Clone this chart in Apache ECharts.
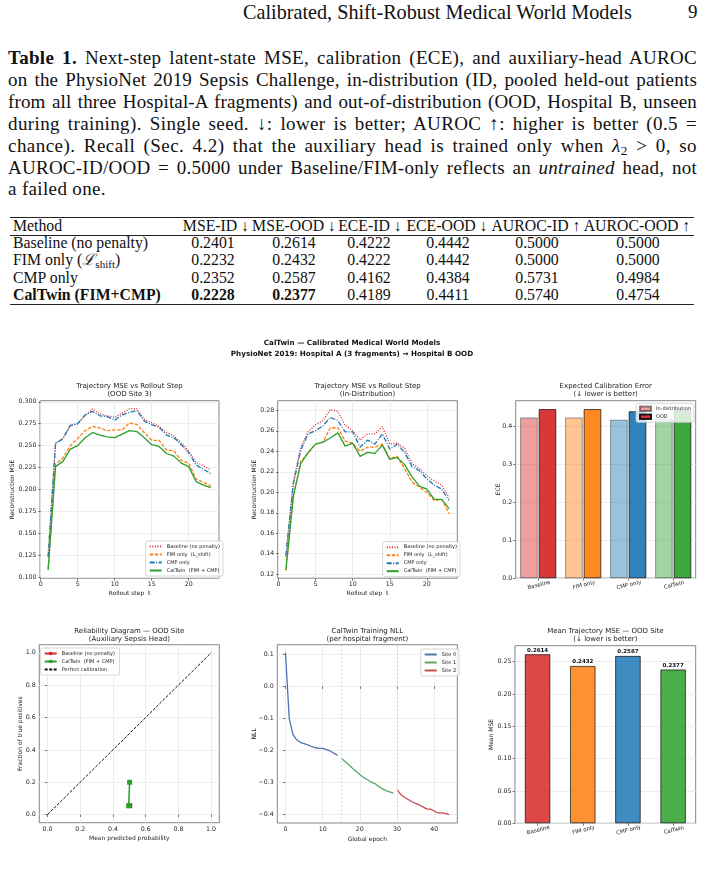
<!DOCTYPE html>
<html>
<head>
<meta charset="utf-8">
<script src="https://cdn.jsdelivr.net/npm/echarts@6/dist/echarts.min.js"></script>
<style>
html, body { margin: 0; padding: 0; background: #fff; }
body { width: 704px; height: 875px; position: relative; overflow: hidden;
       font-family: "Liberation Serif", "DejaVu Serif", serif; color: #111; }
.ln { position: absolute; left: 8px; font-size: 19px; line-height: 22px; white-space: nowrap; }
.cell { position: absolute; white-space: nowrap; font-size: 15.8px; line-height: 17px; }
.rule { position: absolute; left: 10px; width: 684px; background: #222; }
sub { font-size: 70%; vertical-align: -0.25em; line-height: 0; }
#chart { position: absolute; left: 0; top: 330px; width: 704px; height: 545px; }
</style>
</head>
<body>
<div id="hdr" class="ln" style="top:1px;left:243px"><span>Calibrated, Shift-Robust Medical World Models</span></div>
<div class="ln" style="top:1px;left:688px">9</div>

<div class="ln jl" style="top:47px"><span><b>Table 1.</b> Next-step latent-state MSE, calibration (ECE), and auxiliary-head AUROC</span></div>
<div class="ln jl" style="top:68.9px"><span>on the PhysioNet 2019 Sepsis Challenge, in-distribution (ID, pooled held-out patients</span></div>
<div class="ln jl" style="top:90.8px"><span>from all three Hospital-A fragments) and out-of-distribution (OOD, Hospital B, unseen</span></div>
<div class="ln jl" style="top:112.7px"><span>during training). Single seed. ↓: lower is better; AUROC ↑: higher is better (0.5 =</span></div>
<div class="ln jl" style="top:134.6px"><span>chance). Recall (Sec. 4.2) that the auxiliary head is trained only when <i>λ</i><sub>2</sub> &gt; 0, so</span></div>
<div class="ln jl" style="top:156.5px"><span>AUROC-ID/OOD = 0.5000 under Baseline/FIM-only reflects an <i>untrained</i> head, not</span></div>
<div class="ln" id="last" style="top:178.4px"><span>a failed one.</span></div>

<div class="rule" style="top:216.5px;height:1.3px"></div>
<div class="rule" style="top:235px;height:0.8px"></div>
<div class="rule" style="top:303.5px;height:1.3px"></div>
<div id="table"></div>

<div id="chart"></div>

<script>
// ---- table values ----
const tableHead = ['MSE-ID ↓', 'MSE-OOD ↓', 'ECE-ID ↓', 'ECE-OOD ↓', 'AUROC-ID ↑', 'AUROC-OOD ↑']
const tableMethods = ['Baseline (no penalty)', 'FIM only (<i>ℒ</i><sub>shift</sub>)', 'CMP only', '<b>CalTwin (FIM+CMP)</b>']
const mseId = [0.2401, 0.2232, 0.2352, 0.2228]
const mseOod = [0.2614, 0.2432, 0.2587, 0.2377]
const eceId = [0.4222, 0.4222, 0.4162, 0.4189]
const eceOod = [0.4442, 0.4442, 0.4384, 0.4411]
const aurocId = [0.5000, 0.5000, 0.5731, 0.5740]
const aurocOod = [0.5000, 0.5000, 0.4984, 0.4754]

// ---- figure data ----
const steps = [1, 2, 3, 4, 5, 6, 7, 8, 9, 10, 11, 12, 13, 14, 15, 16, 17, 18, 19, 20, 21, 22, 23]
const oodBaseline = [0.125, 0.253, 0.258, 0.273, 0.275, 0.284, 0.292, 0.286, 0.284, 0.282, 0.287, 0.292, 0.292, 0.280, 0.276, 0.272, 0.265, 0.261, 0.253, 0.244, 0.231, 0.227, 0.222]
const oodFim = [0.110, 0.229, 0.236, 0.250, 0.258, 0.267, 0.272, 0.270, 0.267, 0.268, 0.268, 0.276, 0.274, 0.265, 0.256, 0.256, 0.245, 0.244, 0.233, 0.230, 0.212, 0.208, 0.204]
const oodCmp = [0.123, 0.252, 0.258, 0.273, 0.275, 0.285, 0.289, 0.284, 0.283, 0.279, 0.285, 0.288, 0.290, 0.278, 0.274, 0.271, 0.262, 0.259, 0.251, 0.242, 0.228, 0.223, 0.218]
const oodCaltwin = [0.108, 0.226, 0.232, 0.246, 0.250, 0.259, 0.265, 0.262, 0.260, 0.259, 0.263, 0.267, 0.266, 0.259, 0.251, 0.249, 0.241, 0.238, 0.230, 0.226, 0.209, 0.205, 0.202]

const idBaseline = [0.137, 0.210, 0.244, 0.259, 0.266, 0.270, 0.281, 0.279, 0.265, 0.260, 0.251, 0.257, 0.257, 0.264, 0.247, 0.248, 0.243, 0.228, 0.223, 0.216, 0.211, 0.207, 0.195]
const idFim = [0.124, 0.195, 0.230, 0.238, 0.247, 0.249, 0.263, 0.263, 0.250, 0.248, 0.240, 0.244, 0.244, 0.247, 0.233, 0.235, 0.223, 0.210, 0.205, 0.200, 0.192, 0.193, 0.179]
const idCmp = [0.138, 0.208, 0.241, 0.257, 0.260, 0.265, 0.273, 0.270, 0.259, 0.259, 0.244, 0.251, 0.247, 0.257, 0.242, 0.247, 0.239, 0.225, 0.221, 0.213, 0.207, 0.203, 0.192]
const idCaltwin = [0.124, 0.196, 0.228, 0.239, 0.247, 0.249, 0.253, 0.258, 0.245, 0.248, 0.235, 0.239, 0.238, 0.246, 0.232, 0.234, 0.227, 0.215, 0.206, 0.203, 0.193, 0.193, 0.184]

const methodShort = ['Baseline', 'FIM only', 'CMP only', 'CalTwin']

// reliability diagram points [mean predicted, fraction positive]
const relBaseline = [[0.503, 0.055]]
const relCaltwin = [[0.496, 0.055], [0.502, 0.200]]
const relPerfect = [[0, 0], [1, 1]]

const epochs0 = [0, 1, 2, 3, 4, 5, 6, 7, 8, 9, 10, 11, 12, 13, 14]
const epochs1 = [15, 16, 17, 18, 19, 20, 21, 22, 23, 24, 25, 26, 27, 28, 29]
const epochs2 = [30, 31, 32, 33, 34, 35, 36, 37, 38, 39, 40, 41, 42, 43, 44]
const nllSite0 = [0.105, -0.100, -0.150, -0.167, -0.175, -0.179, -0.183, -0.188, -0.192, -0.194, -0.194, -0.198, -0.202, -0.209, -0.216]
const nllSite1 = [-0.225, -0.235, -0.245, -0.256, -0.266, -0.276, -0.285, -0.292, -0.299, -0.304, -0.312, -0.320, -0.326, -0.330, -0.334]
const nllSite2 = [-0.323, -0.338, -0.347, -0.354, -0.361, -0.366, -0.371, -0.377, -0.384, -0.384, -0.390, -0.396, -0.396, -0.397, -0.401]
const fragmentStarts = [15, 30]

// tick labels
const stepTicks = [0, 5, 10, 15, 20]
const oodTicks = [0.100, 0.125, 0.150, 0.175, 0.200, 0.225, 0.250, 0.275, 0.300]
const idTicks = [0.12, 0.14, 0.16, 0.18, 0.20, 0.22, 0.24, 0.26, 0.28]
const eceTicks = [0.0, 0.1, 0.2, 0.3, 0.4]
const probTicks = [0.0, 0.2, 0.4, 0.6, 0.8, 1.0]
const epochTicks = [0, 10, 20, 30, 40]
const nllTicks = [-0.4, -0.3, -0.2, -0.1, 0.0, 0.1]
const mseTicks = [0.00, 0.05, 0.10, 0.15, 0.20, 0.25]

// ---- build the table ----
const colCenters = [213, 294, 369, 448, 537, 638]
const headCenters = [216, 294, 370, 447, 536, 637]
const rowTops = [234, 251.3, 268.7, 286]
let html = '<div class="cell" style="left:13px;top:216.7px">Method</div>'
tableHead.forEach((h, j) => {
  html += '<div class="cell" style="left:' + headCenters[j] + 'px;top:216.7px;transform:translateX(-50%)">' + h + '</div>'
})
tableMethods.forEach((m, i) => {
  html += '<div class="cell" style="left:13px;top:' + rowTops[i] + 'px">' + m + '</div>'
  const vals = [mseId[i], mseOod[i], eceId[i], eceOod[i], aurocId[i], aurocOod[i]]
  vals.forEach((v, j) => {
    let t = v.toFixed(4)
    if (i === 3 && j < 2) t = '<b>' + t + '</b>'
    html += '<div class="cell" style="left:' + colCenters[j] + 'px;top:' + rowTops[i] + 'px;transform:translateX(-50%)">' + t + '</div>'
  })
})
document.getElementById('table').innerHTML = html

// justify caption lines: part of the slack goes between letters, the rest between words
document.querySelectorAll('.jl').forEach(el => {
  const span = el.firstElementChild
  const w = span.getBoundingClientRect().width
  const txt = span.textContent
  const n = (txt.match(/ /g) || []).length
  const slack = 689 - w
  const ls = slack > 0 ? 0.45 * slack / txt.length : 0
  span.style.letterSpacing = ls + 'px'
  const w2 = span.getBoundingClientRect().width
  span.style.wordSpacing = ((689 - w2) / n) + 'px'
})
document.getElementById('last').firstElementChild.style.letterSpacing = '0.35px'
// running head width
const hdr = document.getElementById('hdr')
const hw = hdr.firstElementChild.getBoundingClientRect().width
hdr.style.fontSize = (19 * 389 / hw) + 'px'

// ---- chart ----
const ink = '#222'
const red = '#d62728', orange = '#ff7f0e', blue = '#1f77b4', green = '#2ca02c'
const methodRgb = ['214,39,40', '255,127,14', '31,119,180', '44,160,44']

function fmt (d) {
  return v => Number(v).toFixed(d).replace('-', '\u2212')
}

function valAxis (grid, min, max, ticks, dec, name, gap, showSplit) {
  return {
    type: 'value', gridIndex: grid, min: min, max: max,
    name: name, nameLocation: 'middle', nameGap: gap, nameMoveOverlap: false,
    nameTextStyle: { fontSize: 6, color: ink },
    axisLine: { show: false },
    axisTick: { show: true, length: 2.5, customValues: ticks, lineStyle: { color: '#444', width: 0.7 } },
    axisLabel: { fontSize: 6.3, color: '#262626', margin: 3.5, customValues: ticks, formatter: fmt(dec) },
    splitLine: { show: showSplit, lineStyle: { color: '#e8e8e8', width: 0.8 } }
  }
}

function catAxis (grid) {
  return {
    type: 'category', gridIndex: grid, data: methodShort,
    axisLine: { show: false },
    axisTick: { show: true, alignWithLabel: true, length: 2.5, lineStyle: { color: '#444', width: 0.7 } },
    axisLabel: { interval: 0, rotate: 14, fontSize: 5.5, color: '#262626', margin: 4, align: 'center', verticalAlign: 'top' },
    splitLine: { show: false }
  }
}

function lineSeries (name, grid, xs, ys, color, dash) {
  return {
    type: 'line', name: name, xAxisIndex: grid, yAxisIndex: grid,
    symbol: 'none', lineStyle: { color: color, width: 1.3, type: dash },
    itemStyle: { color: color },
    data: xs.map((x, i) => [x, ys[i]])
  }
}

function legendBox (names, left, top, lineOnly) {
  const lg = {
    data: names, orient: 'vertical', left: left, top: top,
    itemWidth: 12, itemHeight: 4, itemGap: 0, padding: [1.5, 3],
    backgroundColor: 'rgba(255,255,255,0.8)', borderColor: '#cccccc', borderWidth: 0.8, borderRadius: 2,
    textStyle: { fontSize: 5, lineHeight: 8, color: ink }, selectedMode: false
  }
  // line-only handles: hide the marker that the legend adds in the middle
  if (lineOnly) lg.itemStyle = { opacity: 0 }
  return lg
}

function subTitle (text, cx, top) {
  return { text: text, left: cx, top: top, textAlign: 'center', padding: 0,
    textStyle: { fontSize: 7, fontWeight: 'normal', lineHeight: 8.5, color: ink } }
}

const lineNames = ['Baseline (no penalty)', 'FIM only  (L_shift)', 'CMP only', 'CalTwin  (FIM + CMP)']
const dotted = [1, 1.6], dashed = [3.5, 1.6], dashDot = [5, 1.5, 1, 1.5]

const gridBase = { show: true, borderColor: '#666', borderWidth: 0.8, containLabel: false, outerBoundsMode: 'none' }
const grids = [
  { left: 40, top: 70.7, width: 179, height: 177.5 },
  { left: 277.7, top: 70.7, width: 179.6, height: 177.5 },
  { left: 515.7, top: 70.7, width: 180, height: 177.5 },
  { left: 39.3, top: 314.7, width: 180, height: 178 },
  { left: 277.3, top: 314.7, width: 180, height: 178.3 },
  { left: 515, top: 315.7, width: 180.7, height: 177.6 }
].map(g => Object.assign({}, gridBase, g))

const myChart = echarts.init(document.getElementById('chart'))
myChart.setOption({
  animation: false,
  backgroundColor: '#fff',
  textStyle: { fontFamily: 'DejaVu Sans' },
  title: [
    { text: 'CalTwin — Calibrated Medical World Models\nPhysioNet 2019: Hospital A (3 fragments) → Hospital B OOD',
      left: 352, top: 7.5, textAlign: 'center', padding: 0,
      textStyle: { fontSize: 7.2, fontWeight: 'bold', lineHeight: 11, color: '#111' } },
    subTitle('Trajectory MSE vs Rollout Step\n(OOD Site 3)', 129.5, 51.5),
    subTitle('Trajectory MSE vs Rollout Step\n(In-Distribution)', 367.5, 51.5),
    subTitle('Expected Calibration Error\n(↓ lower is better)', 605.7, 51.5),
    subTitle('Reliability Diagram — OOD Site\n(Auxiliary Sepsis Head)', 129.3, 296.5),
    subTitle('CalTwin Training NLL\n(per hospital fragment)', 367.3, 296.5),
    subTitle('Mean Trajectory MSE — OOD Site\n(↓ lower is better)', 605.4, 296.5)
  ],
  grid: grids,
  legend: [
    legendBox(lineNames, 145.7, 211, true),
    legendBox(lineNames, 382.7, 211.7, true),
    Object.assign(legendBox(['In-distribution', 'OOD'], 636, 73.3, false), { icon: 'rect', itemWidth: 11, itemHeight: 4.5 }),
    legendBox(['Baseline (no penalty) ', 'CalTwin  (FIM + CMP) ', 'Perfect calibration'], 40.7, 318, false),
    legendBox(['Site 0', 'Site 1', 'Site 2'], 420.7, 319, true)
  ],
  xAxis: [
    valAxis(0, -0.1, 24.1, stepTicks, 0, 'Rollout step  t', 12, true),
    valAxis(1, -0.1, 24.1, stepTicks, 0, 'Rollout step  t', 12, true),
    catAxis(2),
    valAxis(3, -0.05, 1.05, probTicks, 1, 'Mean predicted probability', 13, true),
    valAxis(4, -2.2, 46.2, epochTicks, 0, 'Global epoch', 13, true),
    catAxis(5)
  ],
  yAxis: [
    valAxis(0, 0.0988, 0.3012, oodTicks, 3, 'Reconstruction MSE', 25, true),
    valAxis(1, 0.1161, 0.2894, idTicks, 2, 'Reconstruction MSE', 20.7, true),
    valAxis(2, 0, 0.4664, eceTicks, 1, 'ECE', 14.4, true),
    valAxis(3, -0.05, 1.05, probTicks, 1, 'Fraction of true positives', 16.3, true),
    valAxis(4, -0.4274, 0.1304, nllTicks, 1, 'NLL', 20.3, true),
    valAxis(5, 0, 0.2745, mseTicks, 2, 'Mean MSE', 20.3, true)
  ],
  series: [
    lineSeries(lineNames[0], 0, steps, oodBaseline, red, dotted),
    lineSeries(lineNames[1], 0, steps, oodFim, orange, dashed),
    lineSeries(lineNames[2], 0, steps, oodCmp, blue, dashDot),
    lineSeries(lineNames[3], 0, steps, oodCaltwin, green, 'solid'),

    lineSeries(lineNames[0], 1, steps, idBaseline, red, dotted),
    lineSeries(lineNames[1], 1, steps, idFim, orange, dashed),
    lineSeries(lineNames[2], 1, steps, idCmp, blue, dashDot),
    lineSeries(lineNames[3], 1, steps, idCaltwin, green, 'solid'),

    {
      type: 'bar', name: 'In-distribution', xAxisIndex: 2, yAxisIndex: 2,
      barWidth: 17.5, barGap: '6%',
      itemStyle: { color: 'rgba(214,39,40,0.45)', borderColor: 'rgba(0,0,0,0.45)', borderWidth: 0.8 },
      data: eceId.map((v, i) => ({ value: v, itemStyle: { color: 'rgba(' + methodRgb[i] + ',0.45)' } }))
    },
    {
      type: 'bar', name: 'OOD', xAxisIndex: 2, yAxisIndex: 2,
      barWidth: 17.5, barGap: '6%',
      itemStyle: { color: 'rgba(214,39,40,0.92)', borderColor: 'rgba(0,0,0,0.85)', borderWidth: 0.8 },
      data: eceOod.map((v, i) => ({ value: v, itemStyle: { color: 'rgba(' + methodRgb[i] + ',0.92)' } }))
    },

    {
      type: 'line', name: 'Baseline (no penalty) ', xAxisIndex: 3, yAxisIndex: 3,
      symbol: 'rect', symbolSize: 5, lineStyle: { color: red, width: 1.5 }, itemStyle: { color: red },
      data: relBaseline
    },
    {
      type: 'line', name: 'CalTwin  (FIM + CMP) ', xAxisIndex: 3, yAxisIndex: 3,
      symbol: 'rect', symbolSize: 5, lineStyle: { color: green, width: 1.5 }, itemStyle: { color: green },
      data: relCaltwin
    },
    {
      type: 'line', name: 'Perfect calibration', xAxisIndex: 3, yAxisIndex: 3,
      symbol: 'none', lineStyle: { color: '#111', width: 1, type: [3, 1.5] }, itemStyle: { color: 'rgba(0,0,0,0)' },
      data: relPerfect
    },

    Object.assign(lineSeries('Site 0', 4, epochs0, nllSite0, '#4c72b0', 'solid'), {
      markLine: {
        silent: true, symbol: ['none', 'none'], label: { show: false },
        lineStyle: { type: [2, 2], color: '#cfcfcf', width: 0.8 },
        data: fragmentStarts.map(x => ({ xAxis: x }))
      }
    }),
    lineSeries('Site 1', 4, epochs1, nllSite1, '#55a868', 'solid'),
    lineSeries('Site 2', 4, epochs2, nllSite2, '#c44e52', 'solid'),

    {
      type: 'bar', name: 'Mean MSE', xAxisIndex: 5, yAxisIndex: 5, barWidth: 25.5,
      itemStyle: { borderColor: 'rgba(0,0,0,0.75)', borderWidth: 0.9 },
      label: { show: true, position: 'top', distance: 1, fontSize: 5.5, fontWeight: 'bold', color: '#111',
        formatter: p => p.value.toFixed(4) },
      data: mseOod.map((v, i) => ({ value: v, itemStyle: { color: 'rgba(' + methodRgb[i] + ',0.85)' } }))
    }
  ]
})
</script>
</body>
</html>
